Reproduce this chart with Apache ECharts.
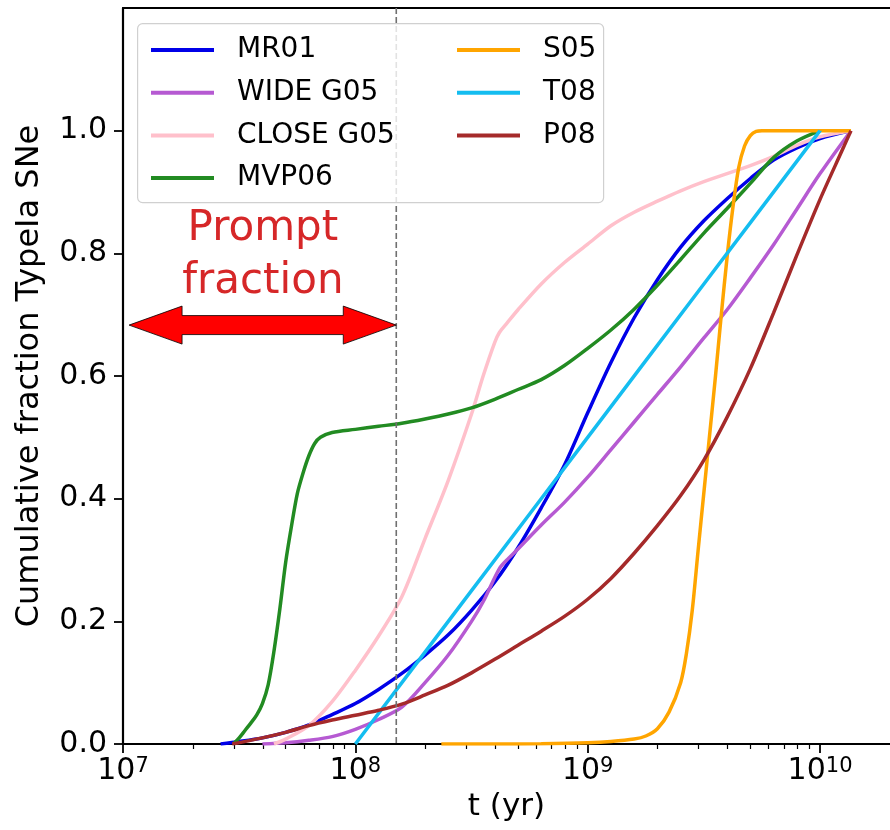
<!DOCTYPE html>
<html>
<head>
<meta charset="utf-8">
<script src="https://cdn.jsdelivr.net/npm/echarts@6/dist/echarts.min.js"></script>
<style>
  html, body { margin: 0; padding: 0; background: #ffffff; }
  #chart { width: 890px; height: 830px; }
</style>
</head>
<body>
<div id="chart"></div>
<script>
// Cumulative fraction of Type Ia SNe versus delay time.
// Each pair is [log10(t / yr), cumulative fraction].
const mr01 = [[7.42,0],[7.5,0.004],[7.6,0.01],[7.7,0.019],[7.8,0.031],[7.9,0.048],[8.0,0.066],[8.1,0.089],[8.2,0.115],[8.3,0.145],[8.4,0.178],[8.5,0.218],[8.6,0.264],[8.7,0.32],[8.8,0.385],[8.9,0.455],[9.0,0.54],[9.1,0.622],[9.2,0.695],[9.3,0.757],[9.4,0.81],[9.5,0.853],[9.6,0.889],[9.7,0.922],[9.8,0.952],[9.9,0.972],[10.0,0.987],[10.133,1.0]];
const wideG05 = [[7.6,0],[7.7,0.002],[7.8,0.006],[7.9,0.012],[8.0,0.024],[8.1,0.04],[8.2,0.06],[8.3,0.1],[8.4,0.145],[8.5,0.2],[8.55,0.232],[8.62,0.286],[8.66,0.303],[8.7,0.318],[8.8,0.357],[8.9,0.394],[9.0,0.435],[9.1,0.48],[9.2,0.525],[9.3,0.57],[9.4,0.615],[9.5,0.662],[9.6,0.708],[9.7,0.76],[9.8,0.814],[9.9,0.872],[10.0,0.93],[10.133,1.0]];
const closeG05 = [[7.65,0],[7.7,0.008],[7.8,0.03],[7.9,0.069],[8.0,0.12],[8.1,0.176],[8.2,0.24],[8.3,0.335],[8.4,0.43],[8.5,0.538],[8.55,0.6],[8.6,0.655],[8.62,0.671],[8.65,0.685],[8.7,0.708],[8.8,0.75],[8.9,0.785],[9.0,0.815],[9.1,0.845],[9.2,0.867],[9.3,0.885],[9.4,0.902],[9.5,0.917],[9.6,0.93],[9.7,0.943],[9.8,0.958],[9.9,0.976],[10.0,0.99],[10.133,1.0]];
const mvp06 = [[7.475,0],[7.5,0.01],[7.525,0.022],[7.55,0.034],[7.575,0.047],[7.6,0.066],[7.625,0.097],[7.65,0.152],[7.675,0.22],[7.7,0.296],[7.725,0.355],[7.75,0.408],[7.775,0.442],[7.8,0.47],[7.825,0.49],[7.85,0.5],[7.9,0.508],[8.0,0.513],[8.1,0.518],[8.2,0.523],[8.3,0.53],[8.4,0.538],[8.5,0.548],[8.6,0.562],[8.7,0.578],[8.8,0.594],[8.9,0.617],[9.0,0.645],[9.1,0.675],[9.2,0.709],[9.3,0.748],[9.4,0.79],[9.5,0.833],[9.6,0.873],[9.7,0.914],[9.8,0.956],[9.9,0.983],[10.0,1.0]];
const s05 = [[8.37,0],[8.6,0],[8.8,0.0005],[9.0,0.002],[9.1,0.004],[9.2,0.008],[9.25,0.013],[9.3,0.025],[9.35,0.052],[9.4,0.1],[9.425,0.148],[9.45,0.218],[9.475,0.315],[9.5,0.41],[9.525,0.505],[9.55,0.6],[9.575,0.7],[9.6,0.794],[9.625,0.875],[9.65,0.94],[9.675,0.975],[9.7,0.992],[9.725,0.999],[9.75,1.0],[9.9,1.0],[10.133,1.0]];
const t08 = [[8.0,0],[8.5,0.25],[9.0,0.5],[9.5,0.75],[10.0,1.0]];
const p08 = [[7.47,0],[7.6,0.01],[7.7,0.019],[7.8,0.03],[7.9,0.039],[8.0,0.047],[8.1,0.055],[8.2,0.065],[8.3,0.08],[8.4,0.096],[8.5,0.116],[8.6,0.138],[8.7,0.161],[8.8,0.184],[8.9,0.208],[9.0,0.236],[9.1,0.27],[9.2,0.311],[9.3,0.356],[9.4,0.405],[9.5,0.463],[9.6,0.533],[9.7,0.612],[9.8,0.703],[9.9,0.797],[10.0,0.888],[10.1,0.972],[10.133,1.0]];

const seriesNames = ['MR01', 'WIDE G05', 'CLOSE G05', 'MVP06', 'S05', 'T08', 'P08'];
const seriesData = [mr01, wideG05, closeG05, mvp06, s05, t08, p08];
const seriesColors = ['#0000e8', '#b65ad2', '#ffc0cb', '#228b22', '#ffa500', '#14bdf0', '#a52a2a'];

// axes: t in years on a log scale, fraction on a linear scale
const xMinT = 1e7;
const xMaxT = 2e10;
const xMajorExponents = [7, 8, 9, 10];
const yTickValues = [0, 0.2, 0.4, 0.6, 0.8, 1.0];
const yMax = 1.2;

// prompt-fraction annotation
const promptCutT = 1.5e8;      // yr, dashed divider
const arrowStartT = 1.062e7;   // yr, left arrow tip
const arrowLevel = 0.683;
const promptLabelT = 4.0e7;
const promptLabelLevel = 0.797;

const fontFamily = '"DejaVu Sans", "Liberation Sans", sans-serif';
const xMin = Math.log10(xMinT);
const xMax = Math.log10(xMaxT);

// minor ticks at 2..9 x 10^n
const xMinorTicks = [];
for (let n = 7; n <= 10; n++) {
  for (let k = 2; k <= 9; k++) {
    const v = Math.log10(k * Math.pow(10, n));
    if (v < xMax) xMinorTicks.push(v);
  }
}

const chart = echarts.init(document.getElementById('chart'), null, { renderer: 'canvas' });

const lineSeries = seriesNames.map((name, i) => ({
  name: name,
  type: 'line',
  data: seriesData[i],
  xAxisIndex: 0,
  yAxisIndex: 0,
  showSymbol: false,
  symbol: 'none',
  smooth: 0.3,
  color: seriesColors[i],
  lineStyle: { width: 3.5, color: seriesColors[i] },
  emphasis: { disabled: true },
  z: 2 + i * 0.01
}));

const annotationSeries = {
  type: 'custom',
  name: 'prompt',
  xAxisIndex: 0,
  yAxisIndex: 0,
  data: [[Math.log10(promptCutT), arrowLevel]],
  silent: true,
  z: 3,
  clip: false,
  renderItem: function (params, api) {
    const cut = Math.log10(promptCutT);
    const top = api.coord([cut, yMax]);
    const bottom = api.coord([cut, 0]);
    const tipL = api.coord([Math.log10(arrowStartT), arrowLevel]);
    const tipR = api.coord([cut, arrowLevel]);
    const headLen = 53, headHalf = 19, shaftHalf = 9.5;
    const y = tipL[1];
    const xl = tipL[0], xr = tipR[0];
    const pts = [
      [xl, y], [xl + headLen, y - headHalf], [xl + headLen, y - shaftHalf],
      [xr - headLen, y - shaftHalf], [xr - headLen, y - headHalf], [xr, y],
      [xr - headLen, y + headHalf], [xr - headLen, y + shaftHalf],
      [xl + headLen, y + shaftHalf], [xl + headLen, y + headHalf]
    ];
    const lab = api.coord([Math.log10(promptLabelT), promptLabelLevel]);
    return {
      type: 'group',
      children: [
        {
          type: 'line',
          shape: { x1: top[0], y1: top[1], x2: bottom[0], y2: bottom[1] },
          style: { stroke: '#707070', lineWidth: 1.6, lineDash: [6, 3] }
        },
        {
          type: 'polygon',
          shape: { points: pts },
          style: { fill: '#ff0000', stroke: '#000000', lineWidth: 0.8 }
        },
        {
          type: 'text',
          x: lab[0],
          y: lab[1],
          style: {
            text: 'Prompt\nfraction',
            fill: '#d62728',
            fontSize: 42,
            fontFamily: fontFamily,
            lineHeight: 53,
            align: 'center',
            verticalAlign: 'middle'
          }
        }
      ]
    };
  }
};

const legendCommon = {
  orient: 'vertical',
  icon: 'rect',
  itemWidth: 63,
  itemHeight: 4,
  itemGap: 12.7,
  top: 30,
  z: 6,
  selectedMode: false,
  textStyle: {
    fontSize: 28,
    fontFamily: fontFamily,
    color: '#000000',
    lineHeight: 30,
    padding: [0, 0, 0, 18]
  }
};

const option = {
  animation: false,
  backgroundColor: '#ffffff',
  grid: { left: 123, top: 8, width: 773, height: 736, containLabel: false },
  legend: [
    Object.assign({}, legendCommon, { left: 146, data: seriesNames.slice(0, 4) }),
    Object.assign({}, legendCommon, { left: 452, data: seriesNames.slice(4) })
  ],
  graphic: [
    {
      type: 'rect',
      left: 137,
      top: 23,
      z: 5,
      shape: { width: 466, height: 179, r: 5 },
      style: { fill: 'rgba(255,255,255,0.8)', stroke: '#d0d0d0', lineWidth: 1.2 }
    }
  ],
  xAxis: [
    {
      type: 'value',
      position: 'bottom',
      min: xMin,
      max: xMax,
      name: 't (yr)',
      nameLocation: 'middle',
      nameGap: 47,
      nameTextStyle: { fontSize: 31, fontFamily: fontFamily, color: '#000000' },
      axisLine: { show: true, onZero: false, lineStyle: { color: '#000000', width: 2.2 } },
      axisTick: { show: true, customValues: xMajorExponents, length: 9, lineStyle: { color: '#000000', width: 1.8 } },
      axisLabel: {
        show: true,
        customValues: xMajorExponents,
        margin: 12,
        formatter: function (v) { return '{b|10}{s|' + Math.round(v) + '}'; },
        rich: {
          b: { fontSize: 30, fontFamily: fontFamily, color: '#000000' },
          s: { fontSize: 21, fontFamily: fontFamily, color: '#000000', verticalAlign: 'top' }
        }
      },
      splitLine: { show: false }
    },
    {
      type: 'value',
      position: 'bottom',
      min: xMin,
      max: xMax,
      axisLine: { show: false },
      axisTick: { show: true, customValues: xMinorTicks, length: 5, lineStyle: { color: '#000000', width: 1.2 } },
      axisLabel: { show: false },
      splitLine: { show: false }
    },
    {
      type: 'value',
      position: 'top',
      min: xMin,
      max: xMax,
      axisLine: { show: true, onZero: false, lineStyle: { color: '#000000', width: 2.2 } },
      axisTick: { show: false },
      axisLabel: { show: false },
      splitLine: { show: false }
    }
  ],
  yAxis: [
    {
      type: 'value',
      min: 0,
      max: yMax,
      name: 'Cumulative fraction TypeIa SNe',
      nameLocation: 'middle',
      nameGap: 77,
      nameTextStyle: { fontSize: 32, fontFamily: fontFamily, color: '#000000' },
      axisLine: { show: true, onZero: false, lineStyle: { color: '#000000', width: 2.2 } },
      axisTick: { show: true, customValues: yTickValues, length: 9, lineStyle: { color: '#000000', width: 1.8 } },
      axisLabel: {
        show: true,
        customValues: yTickValues,
        margin: 16,
        fontSize: 30,
        fontFamily: fontFamily,
        color: '#000000',
        formatter: function (v) { return v.toFixed(1); }
      },
      splitLine: { show: false }
    }
  ],
  series: lineSeries.concat([annotationSeries])
};

chart.setOption(option);
</script>
</body>
</html>
